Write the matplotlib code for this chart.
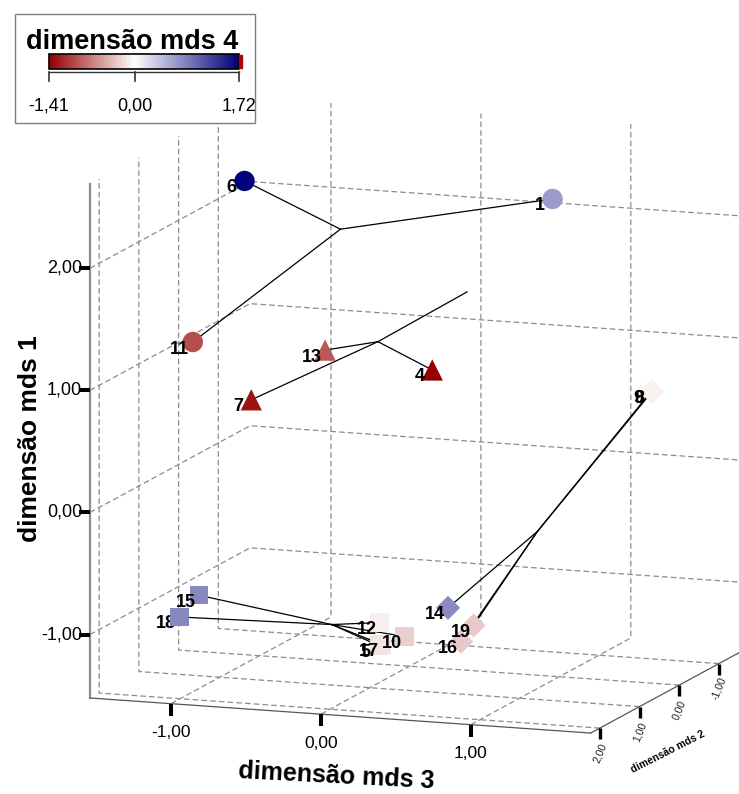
import numpy as np
import matplotlib
matplotlib.use('Agg')
import matplotlib.pyplot as plt
from matplotlib.colors import LinearSegmentedColormap, Normalize
from matplotlib.markers import MarkerStyle
from matplotlib.path import Path
from matplotlib.patches import Rectangle
from mpl_toolkits.mplot3d import proj3d

plt.rcParams['font.family'] = ['Liberation Sans', 'DejaVu Sans']

# pontos (rotulo, grupo/marcador, dimensoes mds)
labels = ['6', '1', '11', '13', '4', '7', '', '15', '18', '12', '10', '5', '17',
          '14', '19', '16', '8', '9']
grupo = ['o', 'o', 'o', '^', '^', '^', '^', 's', 's', 's', 's', 's', 's',
         'D', 'D', 'D', 'D', 'D']
dim3 = [-1.10, 0.69, -1.18, -0.43, 0.02, -0.79, 0.12, -1.27, -1.27, -0.20, 0.10,
        0.06, 0.11, 0.39, 0.64, 0.61, 1.54, 1.56]
dim2 = [0.0, -1.0, 1.0, 0.5, -0.5, 1.0, -1.0, 0.5, 1.0, 0.0, 0.5, 1.0, 1.1,
        0.5, 0.8, 1.0, -0.3, -0.2]
dim1 = [2.36, 2.19, 1.21, 1.12, 0.82, 0.77, 1.38, -0.96, -1.05, -1.18, -1.18,
        -1.17, -1.14, -0.92, -0.99, -1.09, 0.81, 0.83]
dim4 = [1.70, 0.67, -0.97, -0.93, -1.41, -1.30, np.nan, 0.80, 0.80, -0.10, -0.27,
        -0.18, -0.15, 0.78, -0.30, -0.30, -0.08, -0.08]

# centroides dos grupos
cent_grupo = ['o', '^', 's', 'D']
cent3 = [-0.46, -0.21, -0.34, 0.95]
cent2 = [0.0, 0.0, 0.67, 0.36]
cent1 = [2.02, 1.12, -1.09, -0.27]

ticks3 = [-1, 0, 1]
ticks2 = [-1, 0, 1, 2]
ticks1 = [-1, 0, 1, 2]
dim4_min, dim4_max = -1.41, 1.72

lim3 = (-1.54, 1.80)
lim2 = (2.23, -1.80)
lim1 = (-1.52, 2.69)

cmap = LinearSegmentedColormap.from_list(
    'rwb', [(0, '#960000'), (-dim4_min / (dim4_max - dim4_min), '#ffffff'), (1, '#00007a')])
norm = Normalize(dim4_min, dim4_max)

W, H = 739, 794
fig = plt.figure(figsize=(W / 100, H / 100), dpi=100)
ax = fig.add_axes([0.1, 0.1, 0.8, 0.8], projection='3d', proj_type='ortho',
                  computed_zorder=False)
ax.set_xlim(*lim3)
ax.set_ylim(*lim2)
ax.set_zlim(*lim1)
ax.set_box_aspect((532, 473, 524))
ax.view_init(elev=11.23, azim=-70.22)
ax.set_xticks([])
ax.set_yticks([])
ax.set_zticks([])
ax.set_axis_off()

# encaixar a caixa 3D na posicao da figura original
fig.canvas.draw()


def to_px(x, y, z):
    X, Y, _ = proj3d.proj_transform(x, y, z, ax.get_proj())
    return ax.transData.transform((X, Y))


a = to_px(lim3[0], lim2[0], lim1[0])
b = to_px(lim3[0], lim2[0], lim1[1])
s = (698 - 184) / (b[1] - a[1])
bb = ax.get_position().transformed(fig.transFigure)
cx, cy = (bb.x0 + bb.x1) / 2, (bb.y0 + bb.y1) / 2
w, h = bb.width * s, bb.height * s
ncx = 90 - s * (a[0] - cx)
ncy = (H - 698) - s * (a[1] - cy)
ax.set_position([(ncx - w / 2) / W, (ncy - h / 2) / H, w / W, h / H])
fig.canvas.draw()


def text_at(x, y, z, txt, dx=0, dy=0, **kw):
    # texto 2D ancorado na projecao de um ponto 3D (deslocamento em pixels)
    p = to_px(x, y, z)
    return fig.text((p[0] + dx) / W, (p[1] + dy) / H, txt, **kw)


# grade tracejada nas paredes de fundo (chao, parede esquerda, parede de tras)
gkw = dict(color='#8c8c8c', lw=0.9, ls=(0, (4.5, 2.5)), zorder=0.5)
x0, x1 = lim3
yf, yb = lim2
z0, z1 = lim1
for t in ticks3:
    ax.plot([t, t, t], [yf, yb, yb], [z0, z0, z1], **gkw)
for t in ticks2:
    ax.plot([x1, x0, x0], [t, t, t], [z0, z0, z1], **gkw)
for t in ticks1:
    ax.plot([x0, x0, x1], [yf, yb, yb], [t, t, t], **gkw)

# arestas / eixos
ax.plot([x0, x0], [yf, yf], [z0, z1], color='#8e8e8e', lw=1.6, zorder=1)
ax.plot([x0, x1], [yf, yf], [z0, z0], color='#555555', lw=0.9, zorder=1)
ax.plot([x1, x1], [yf, yb], [z0, z0], color='#555555', lw=0.9, zorder=1)

tick_down = MarkerStyle(Path([(0, 0), (0, -1)]))
tick_left = MarkerStyle(Path([(0, 0), (-1, 0)]))
ax.plot(ticks3, [yf] * len(ticks3), [z0] * len(ticks3), ls='none',
        marker=tick_down, ms=17, mew=2.9, mec='black', zorder=6)
ax.plot([x1] * len(ticks2), ticks2, [z0] * len(ticks2), ls='none',
        marker=tick_down, ms=15.5, mew=2.4, mec='black', zorder=6)
ax.plot([x0] * len(ticks1), [yf] * len(ticks1), ticks1, ls='none',
        marker=tick_left, ms=16, mew=2.9, mec='black', zorder=6)


def fmt(v):
    return f'{v:.2f}'.replace('.', ',')


for t in ticks3:
    text_at(t, yf, z0, fmt(t), dy=-29, ha='center', va='center', fontsize=12.5)
for t in ticks1:
    text_at(x0, yf, t, fmt(t), dx=-8, ha='right', va='center', fontsize=13)
for t in ticks2:
    text_at(x1, t, z0, fmt(t), dy=-25, rotation=68, ha='center', va='center',
            fontsize=7.5, color='#222222',
            family=['Liberation Sans Narrow', 'Liberation Sans', 'DejaVu Sans'])

# linhas ate os centroides
for g, c3, c2, c1 in zip(cent_grupo, cent3, cent2, cent1):
    for i in range(len(labels)):
        if grupo[i] == g:
            ax.plot([dim3[i], c3], [dim2[i], c2], [dim1[i], c1], color='black',
                    lw=0.9, zorder=2)

# marcadores
sizes = {'o': 215, '^': 235, 's': 175, 'D': 150}
d3 = np.array(dim3)
d2 = np.array(dim2)
d1 = np.array(dim1)
d4 = np.array(dim4)
g_arr = np.array(grupo)
for g in ['o', '^', 's', 'D']:
    m = (g_arr == g) & ~np.isnan(d4)
    ax.scatter(d3[m], d2[m], d1[m], c=d4[m], cmap=cmap, norm=norm, marker=g,
               s=sizes[g], linewidths=0, depthshade=False, zorder=4)

# rotulos dos pontos (o rotulo 18 fica por baixo do seu marcador)
for i, lab in enumerate(labels):
    if lab and lab != '18':
        text_at(dim3[i], dim2[i], dim1[i], lab, dx=-13, dy=-7, ha='center',
                va='center', fontsize=13, fontweight='bold', zorder=5)
i18 = labels.index('18')
p18 = to_px(dim3[i18], dim2[i18], dim1[i18])
ax.text2D((p18[0] - 13) / W, (p18[1] - 7) / H, '18', transform=fig.transFigure,
          ha='center', va='center', fontsize=13, fontweight='bold', zorder=3.5)

# titulos dos eixos
fig.text(30 / W, 1 - 439 / H, 'dimensão mds 1', rotation=90, ha='center', va='center',
         fontsize=19, fontweight='bold')
fig.text(336 / W, 1 - 776 / H, 'dimensão mds 3', rotation=-3, ha='center', va='center',
         fontsize=18, fontweight='bold')
fig.text(668 / W, 1 - 752 / H, 'dimensão mds 2', rotation=27, ha='center', va='center',
         fontsize=7.5, fontweight='bold',
         family=['Liberation Sans Narrow', 'Liberation Sans', 'DejaVu Sans'])

# legenda de cor
lax = fig.add_axes([14 / W, 1 - 123 / H, 242 / W, 110 / H])
lax.set_xlim(0, 242)
lax.set_ylim(110, 0)
lax.set_xticks([])
lax.set_yticks([])
lax.axis('off')
lax.add_patch(Rectangle((0.5, 0.5), 241, 109, facecolor='white', edgecolor='#7f7f7f',
                        lw=1, clip_on=False))
lax.text(118, 29, 'dimensão mds 4', ha='center', va='center', fontsize=19.5,
         fontweight='bold')

bax = fig.add_axes([49 / W, 1 - 82 / H, 190 / W, 28 / H])
grad = np.linspace(dim4_min, dim4_max, 300)[None, :]
bax.imshow(grad, extent=(dim4_min, dim4_max, 15, 0), cmap=cmap, norm=norm,
           aspect='auto', interpolation='bilinear')
bax.set_xlim(dim4_min, dim4_max)
bax.set_ylim(28, 0)
bax.set_xticks([])
bax.set_yticks([])
bax.axis('off')
bax.add_patch(Rectangle((dim4_min, 0), dim4_max - dim4_min, 15, fill=False,
                        edgecolor='black', lw=1.2, clip_on=False))
bax.add_patch(Rectangle((dim4_max, 1), 0.05, 13, color='#b00000', clip_on=False))
leg_ticks = [dim4_min, 0.0, dim4_max]
bax.plot([dim4_min, dim4_max], [18, 18], color='#333333', lw=1, clip_on=False)
for v in leg_ticks:
    bax.plot([v, v], [18, 27], color='#333333', lw=1.2, clip_on=False)
    bax.text(v, 52, fmt(v), ha='center', va='center', fontsize=13, clip_on=False)

fig.savefig('out.png', dpi=100)
